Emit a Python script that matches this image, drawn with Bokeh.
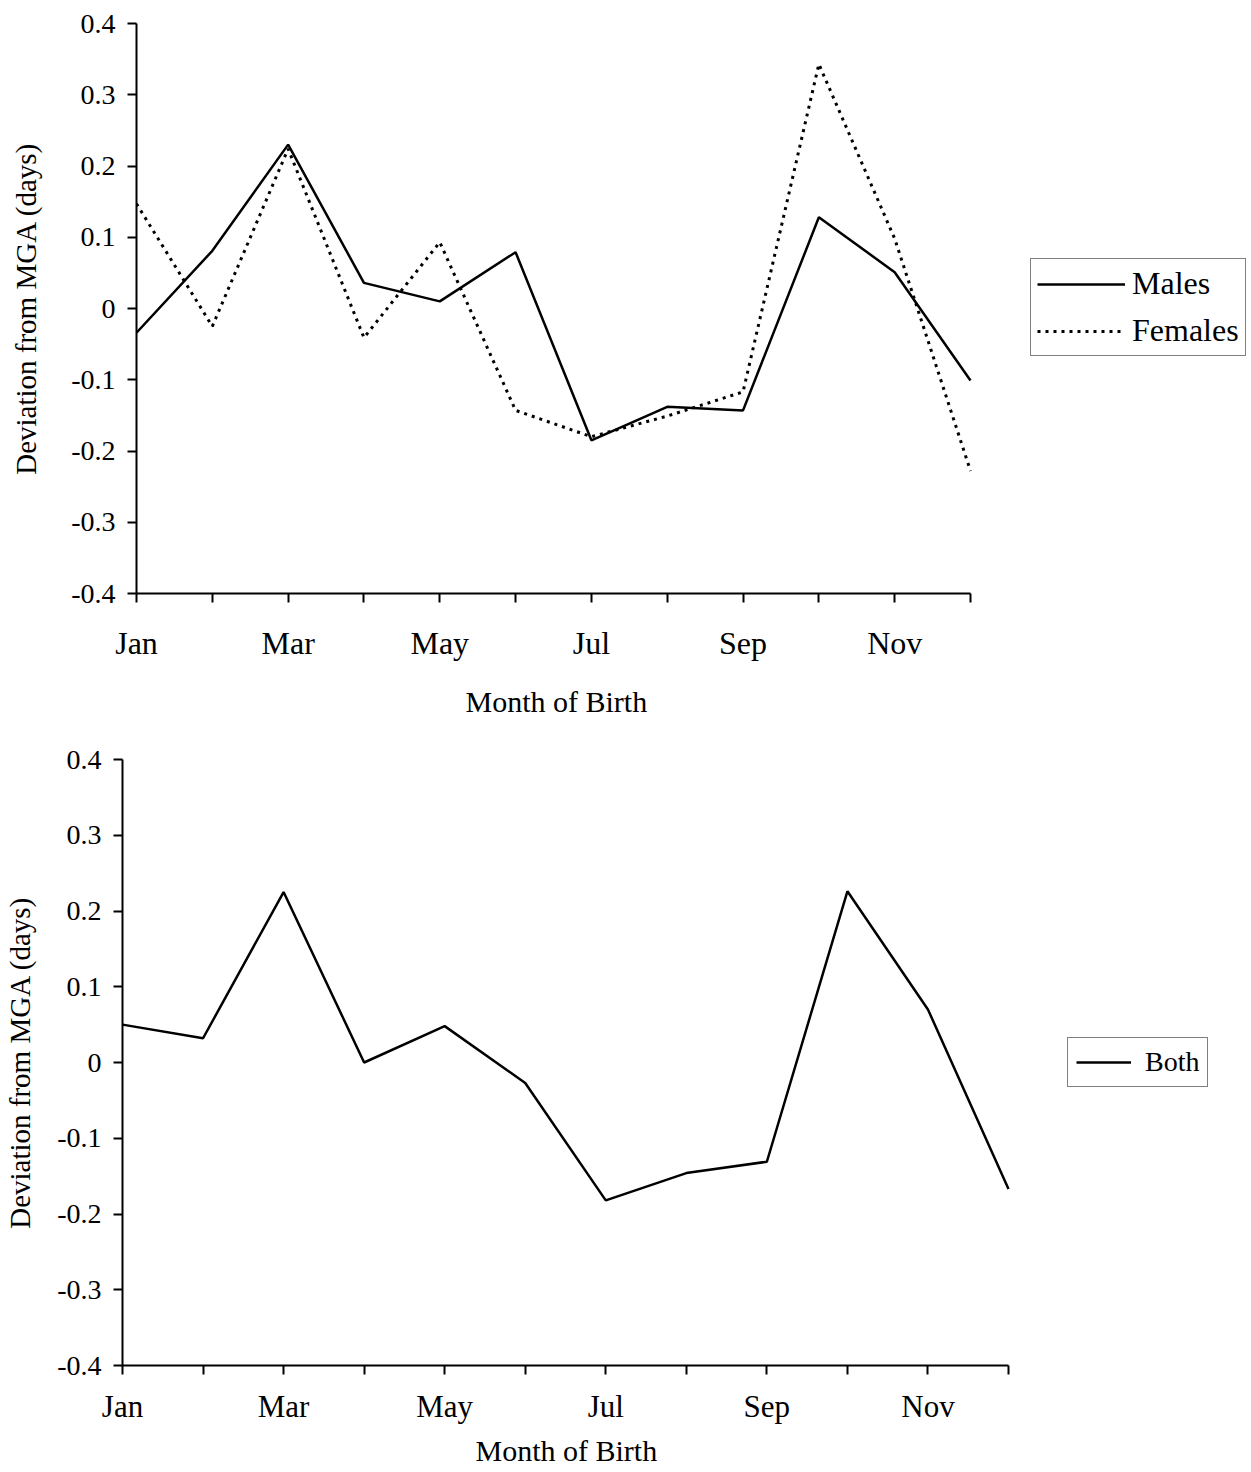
from bokeh.plotting import figure
from bokeh.models import (Range1d, FixedTicker, CustomJSTickFormatter, Legend, LegendItem, Title)
from bokeh.layouts import column, row
from bokeh.embed import file_html
from bokeh.resources import INLINE

months = ["Jan", "Feb", "Mar", "Apr", "May", "Jun", "Jul", "Aug", "Sep", "Oct", "Nov", "Dec"]
shown_month_labels = ["Jan", "Mar", "May", "Jul", "Sep", "Nov"]
y_ticks = [-0.4, -0.3, -0.2, -0.1, 0.0, 0.1, 0.2, 0.3, 0.4]
x_title = "Month of Birth"
y_title = "Deviation from MGA (days)"

males = [-0.034, 0.081, 0.230, 0.036, 0.010, 0.079, -0.185, -0.138, -0.143, 0.128, 0.051, -0.101]
females = [0.147, -0.025, 0.224, -0.041, 0.093, -0.143, -0.180, -0.151, -0.117, 0.343, 0.098, -0.228]
both = [0.050, 0.032, 0.225, 0.000, 0.048, -0.027, -0.182, -0.146, -0.131, 0.226, 0.070, -0.167]

x = list(range(1, len(months) + 1))
FONT = "Liberation Serif"


def make_fig(width, height, left, top, bottom, x_end, tick_font, lab_standoff,
             title_offset, title_standoff, ylab_standoff):
    # frame extends to the right edge so the legend (placed in the frame) is not clipped;
    # the axis itself is bounded to Jan..Dec
    p = figure(width=width, height=height, output_backend="svg", toolbar_location=None,
               x_range=Range1d(1, x_end), y_range=Range1d(-0.4, 0.4),
               min_border_left=left, min_border_right=0,
               min_border_top=top, min_border_bottom=bottom)
    p.outline_line_color = None
    p.xgrid.visible = False
    p.ygrid.visible = False
    p.background_fill_color = "white"
    p.border_fill_color = "white"

    xa = p.xaxis[0]
    xa.bounds = (1, 12)
    xa.ticker = FixedTicker(ticks=x)
    xa.major_label_overrides = {i: (m if m in shown_month_labels else "") for i, m in zip(x, months)}
    xa.minor_tick_line_color = None
    xa.major_tick_in = 0
    xa.major_tick_out = 9
    xa.major_label_standoff = lab_standoff
    xa.major_label_text_font = FONT
    xa.major_label_text_font_size = tick_font

    # x-axis title placed under the middle of the Jan..Dec span (not the whole frame)
    t = Title(text=x_title, align="left", offset=title_offset, standoff=title_standoff,
              text_font=FONT, text_font_size="30px", text_font_style="normal",
              text_color="black")
    p.add_layout(t, "below")

    ya = p.yaxis[0]
    ya.ticker = FixedTicker(ticks=y_ticks)
    ya.formatter = CustomJSTickFormatter(code="return Math.abs(tick) < 1e-9 ? '0' : tick.toFixed(1);")
    ya.axis_label = y_title
    ya.minor_tick_line_color = None
    ya.major_tick_in = 0
    ya.major_tick_out = 9
    ya.major_label_standoff = 12
    ya.axis_label_standoff = ylab_standoff
    ya.major_label_text_font = FONT
    ya.major_label_text_font_size = "28px"
    ya.axis_label_text_font = FONT
    ya.axis_label_text_font_size = "29px"
    ya.axis_label_text_font_style = "normal"

    for ax in (xa, ya):
        ax.axis_line_color = "black"
        ax.axis_line_width = 2
        ax.major_tick_line_color = "black"
        ax.major_tick_line_width = 2
        ax.major_label_text_color = "black"
        ax.axis_label_text_color = "black"
    return p


def style_legend(leg, font_size, glyph_w, standoff, spacing, padding):
    leg.label_text_font = FONT
    leg.label_text_font_size = font_size
    leg.label_text_color = "black"
    leg.glyph_width = glyph_w
    leg.glyph_height = 30
    leg.label_height = 30
    leg.label_standoff = standoff
    leg.spacing = spacing
    leg.padding = padding
    leg.margin = 0
    leg.border_line_color = "black"
    leg.border_line_width = 1.5
    leg.background_fill_color = "white"
    leg.background_fill_alpha = 1


# Top chart: Males / Females  (Jan at x=136, Dec at x=970)
p1 = make_fig(1251, 736, 136, 23, 142, 1 + (1251 - 136) / ((970 - 136) / 11), "32px", 22,
              329, 38, 26)
r_m = p1.line(x, males, line_color="black", line_width=2.5)
r_f = p1.line(x, females, line_color="black", line_width=3, line_dash="3 5")
leg1 = Legend(items=[LegendItem(label="Males", renderers=[r_m]),
                     LegendItem(label="Females", renderers=[r_f])],
              location=(894, 237), orientation="vertical")
style_legend(leg1, "32px", 88, 7, 10, 6)
p1.add_layout(leg1, "center")

# Bottom chart: Both  (Jan at x=122, Dec at x=1008)
p2 = make_fig(1251, 736, 122, 23, 107, 1 + (1251 - 122) / ((1008 - 122) / 11), "31px", 14,
              353, 10, 18)
r_b = p2.line(x, both, line_color="black", line_width=2.5)
leg2 = Legend(items=[LegendItem(label="Both", renderers=[r_b])], location=(945, 278))
style_legend(leg2, "28px", 55, 14, 0, 8)
p2.add_layout(leg2, "center")

layout = column(row(p1), row(p2), spacing=0)
open("out.html", "w").write(file_html(layout, INLINE))
